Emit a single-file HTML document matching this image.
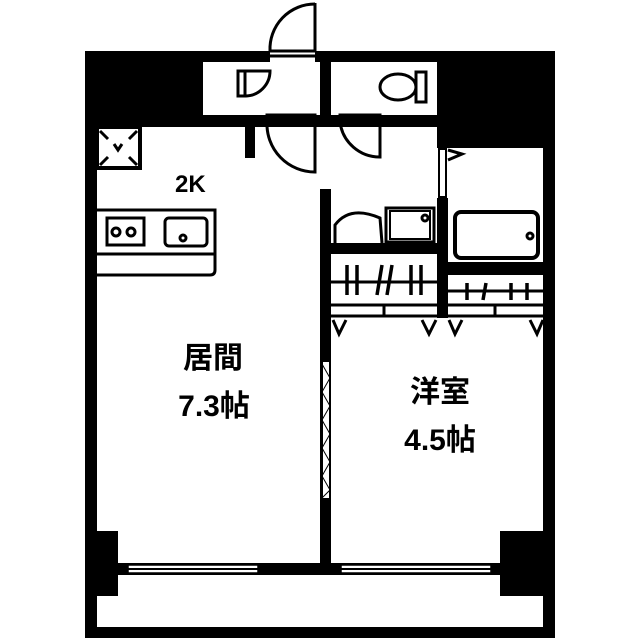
<!DOCTYPE html>
<html><head><meta charset="utf-8"><style>
html,body{margin:0;padding:0;background:#fff;width:640px;height:640px;overflow:hidden}
svg{display:block}
text{font-family:"Liberation Sans","Noto Sans CJK JP",sans-serif;font-weight:bold;fill:#000}
</style></head><body>
<svg width="640" height="640" viewBox="0 0 640 640">
<g fill="#000">
<rect x="85" y="51" width="12" height="587"/>
<rect x="543" y="51" width="12" height="587"/>
<rect x="85" y="627" width="470" height="11"/>
<rect x="85" y="51" width="185" height="11"/>
<rect x="315" y="51" width="240" height="11"/>
<rect x="85" y="51" width="118" height="76"/>
<rect x="97" y="115" width="340" height="12"/>
<rect x="320" y="51" width="11" height="76"/>
<rect x="437" y="51" width="118" height="97"/>
<rect x="245" y="127" width="10" height="31"/>
<rect x="320" y="189" width="11" height="385"/>
<rect x="437" y="198" width="11" height="120"/>
<rect x="331" y="243" width="106" height="11"/>
<rect x="448" y="262" width="95" height="13"/>
<rect x="85" y="531" width="33" height="65"/>
<rect x="500" y="531" width="55" height="65"/>
<rect x="118" y="563" width="382" height="12"/>
</g>
<g fill="#fff" stroke="#000" stroke-width="2">
<rect x="204" y="63" width="115" height="51" stroke="none"/>
<rect x="332" y="63" width="104" height="51" stroke="none"/>
<rect x="128" y="565" width="130" height="8" stroke-width="1.5"/>
<rect x="341" y="565" width="150" height="8" stroke-width="1.5"/>
<rect x="439" y="149" width="7" height="48"/>
</g>
<g fill="none" stroke="#000" stroke-width="3">
<line x1="128" y1="569" x2="258" y2="569" stroke-width="2"/><line x1="341" y1="569" x2="491" y2="569" stroke-width="2"/>
<line x1="269" y1="56" x2="315" y2="56"/>
<path d="M315 3 L315 51 L270 51 A45 45 0 0 1 315 4"/>
<rect x="238" y="71" width="7" height="25"/>
<path d="M245 71 L270 71 A25 25 0 0 1 245 96"/>
<rect x="416" y="72" width="10" height="30"/>
<ellipse cx="398" cy="87" rx="18" ry="13"/>
<rect x="267" y="115" width="48" height="7"/>
<path d="M315 122 L315 172 A48 48 0 0 1 267 122"/>
<rect x="340" y="115" width="40" height="7"/>
<path d="M380 122 L380 157 A40 40 0 0 1 340 122"/>
<rect x="97" y="127" width="43" height="41" stroke-width="4"/>
<line x1="100" y1="131" x2="108" y2="139"/><line x1="137" y1="131" x2="129" y2="139"/>
<line x1="100" y1="165" x2="108" y2="157"/><line x1="137" y1="165" x2="129" y2="157"/>
<path d="M114 144 L118 150 L122 144"/>
<path d="M97 210 L215 210 L215 270 Q215 275 210 275 L97 275"/>
<line x1="97" y1="254" x2="215" y2="254"/>
<rect x="107" y="218" width="37" height="27"/>
<circle cx="116" cy="232" r="4"/><circle cx="131" cy="232" r="4"/>
<rect x="165" y="218" width="42" height="28" rx="4"/>
<circle cx="183" cy="238" r="3"/>
<path d="M335 243 L335 225 Q350 205 380 218 L382 243"/>
<rect x="386" y="208" width="48" height="34"/>
<rect x="390" y="211" width="40" height="28" stroke-width="2"/>
<circle cx="425" cy="218" r="3"/>
<rect x="455" y="212" width="83" height="46" rx="6" stroke-width="4"/>
<circle cx="530" cy="236" r="3"/>
<path d="M448 150 L462 154 L448 160"/>
<line x1="331" y1="282" x2="437" y2="282"/>
<line x1="331" y1="305" x2="437" y2="305"/>
<line x1="331" y1="316" x2="437" y2="316"/>
<line x1="384" y1="305" x2="384" y2="316"/>
<line x1="448" y1="291" x2="543" y2="291"/>
<line x1="448" y1="305" x2="543" y2="305"/>
<line x1="448" y1="316" x2="543" y2="316"/>
<line x1="495" y1="305" x2="495" y2="316"/>
<g stroke-width="3.5">
<line x1="347" y1="265" x2="347" y2="295"/><line x1="357" y1="265" x2="357" y2="295"/>
<line x1="382" y1="265" x2="377" y2="295"/><line x1="392" y1="265" x2="387" y2="295"/>
<line x1="411" y1="265" x2="411" y2="295"/><line x1="421" y1="265" x2="421" y2="295"/>
<line x1="467" y1="283" x2="467" y2="300"/><line x1="486" y1="283" x2="483" y2="300"/>
<line x1="511" y1="283" x2="511" y2="300"/><line x1="527" y1="283" x2="527" y2="300"/>
</g>
<path d="M333 320 L339 334 L346 320"/><path d="M422 320 L429 334 L436 320"/>
<path d="M449 320 L455 334 L462 320"/><path d="M530 320 L537 334 L543 320"/>
<rect x="322" y="361" width="8" height="138" fill="#fff" stroke-width="2"/>
<path d="M322 364 L330 378 L322 392 L330 406 L322 420 L330 434 L322 448 L330 462 L322 476 L330 490 L322 498" stroke-width="1"/>
</g>
<text x="175" y="192" font-size="24">2K</text>
<text x="213" y="368" font-size="30" text-anchor="middle">居間</text>
<text x="214" y="416" font-size="30" text-anchor="middle">7.3帖</text>
<text x="440" y="402" font-size="30" text-anchor="middle">洋室</text>
<text x="440" y="450" font-size="30" text-anchor="middle">4.5帖</text>
</svg>
</body></html>
